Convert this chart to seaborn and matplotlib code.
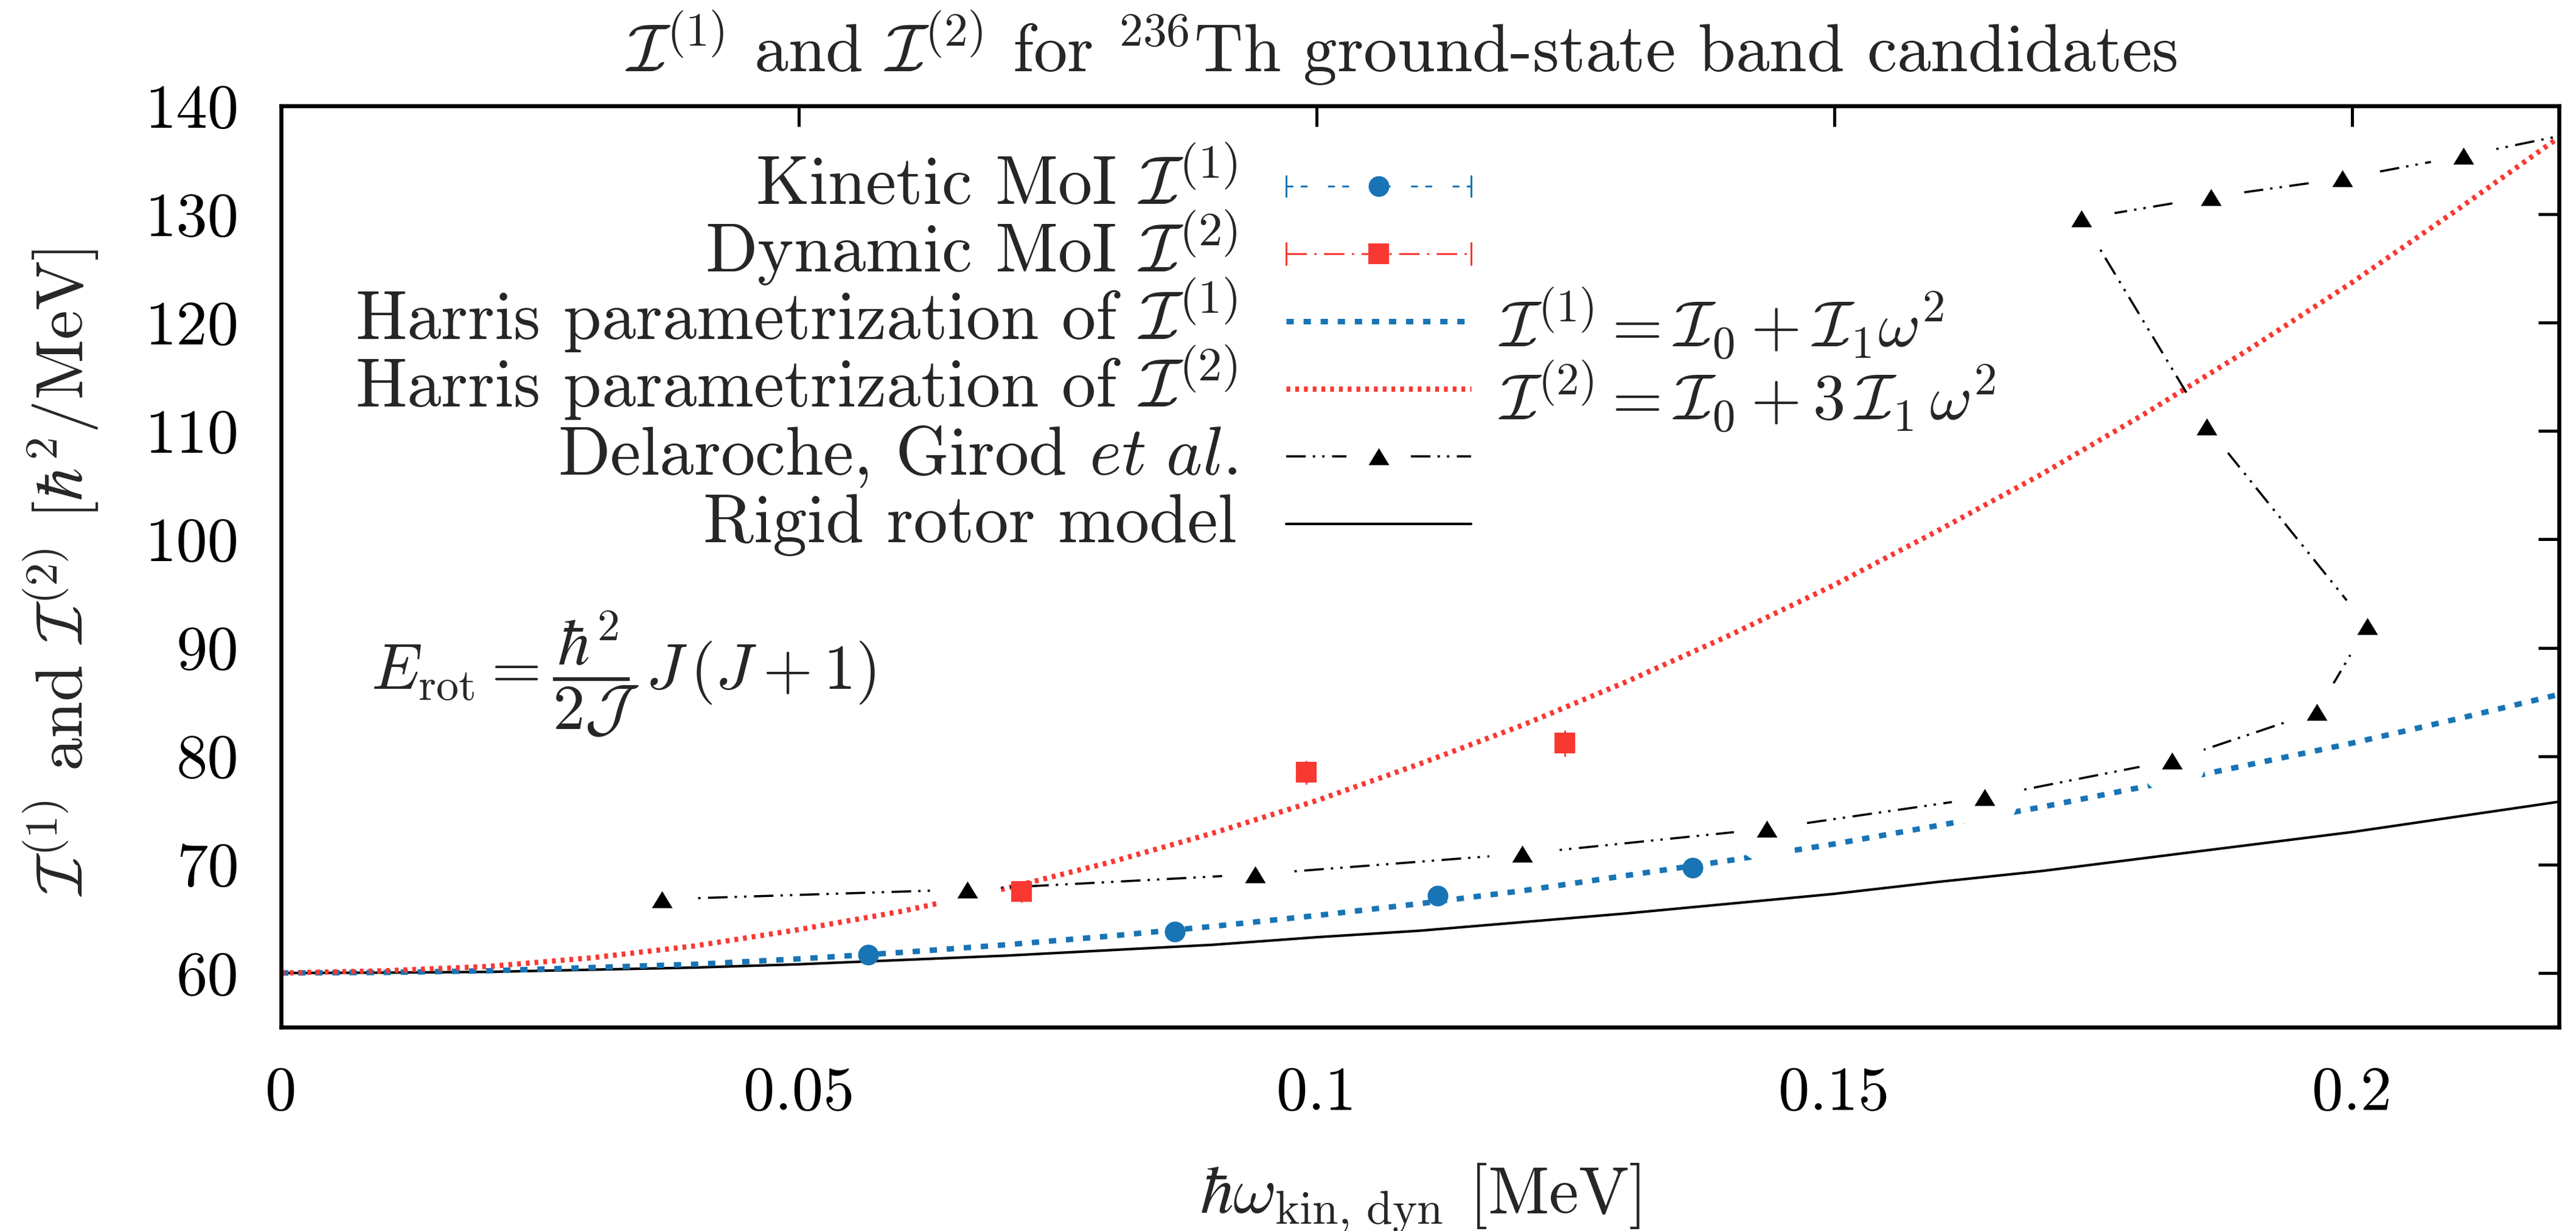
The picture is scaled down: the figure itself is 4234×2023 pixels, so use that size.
import numpy as np
import pandas as pd
import matplotlib
matplotlib.use("Agg")
import matplotlib.pyplot as plt
import seaborn as sns
from matplotlib.lines import Line2D
from matplotlib.legend import Legend
from matplotlib.legend_handler import HandlerBase

# ---------------- data ----------------
omega_grid = [0.00, 0.01, 0.02, 0.03, 0.04, 0.05, 0.06, 0.07, 0.08, 0.09, 0.10, 0.11,
              0.12, 0.13, 0.14, 0.15, 0.16, 0.17, 0.18, 0.19, 0.20, 0.21, 0.22]
harris_moi_1 = [60.0, 60.05, 60.2, 60.5, 60.8, 61.3, 61.9, 62.6, 63.4, 64.3, 65.3, 66.4,
                67.6, 69.0, 70.4, 71.9, 73.6, 75.3, 77.2, 79.2, 81.2, 83.4, 85.7]
harris_moi_2 = [60.0, 60.2, 60.6, 61.4, 62.5, 64.0, 65.7, 67.8, 70.2, 72.9, 75.9, 79.3,
                82.9, 86.9, 91.2, 95.8, 100.8, 106.0, 111.6, 117.5, 123.7, 130.3, 137.1]
rigid_moi = [60.0, 60.03, 60.1, 60.3, 60.5, 60.8, 61.2, 61.6, 62.1, 62.6, 63.3, 63.9,
             64.7, 65.5, 66.4, 67.3, 68.4, 69.4, 70.6, 71.8, 73.0, 74.4, 75.8]

kin_omega = [0.0567, 0.0863, 0.1117, 0.1363]
kin_moi = [61.7, 63.8, 67.1, 69.7]
kin_err = [0.3, 0.3, 0.4, 0.4]

dyn_omega = [0.0715, 0.0990, 0.1240]
dyn_moi = [67.5, 78.5, 81.2]
dyn_err = [1.0, 1.1, 1.2]

delaroche_omega = [0.0368, 0.0663, 0.0941, 0.1199, 0.1435, 0.1645, 0.1826, 0.1966,
                   0.2015, 0.1860, 0.1739, 0.1864, 0.1991, 0.2108, 0.2235]
delaroche_moi = [66.8, 67.7, 69.1, 71.0, 73.3, 76.2, 79.6, 84.1,
                 92.0, 110.4, 129.6, 131.6, 133.3, 135.4, 137.9]

x_ticks = [0.0, 0.05, 0.10, 0.15, 0.20]
x_tick_labels = ["0", "0.05", "0.1", "0.15", "0.2"]
y_ticks = [60, 70, 80, 90, 100, 110, 120, 130, 140]
y_tick_labels = ["60", "70", "80", "90", "100", "110", "120", "130", "140"]

legend_labels = [
    r"Kinetic MoI $\mathcal{I}^{(1)}$",
    r"Dynamic MoI $\mathcal{I}^{(2)}$",
    r"Harris parametrization of $\mathcal{I}^{(1)}$",
    r"Harris parametrization of $\mathcal{I}^{(2)}$",
    r"Delaroche, Girod $\mathit{et\ al.}$",
    r"Rigid rotor model",
]

# ---------------- style ----------------
sns.set_theme(style="white")
plt.rcParams["font.family"] = "serif"
plt.rcParams["font.serif"] = ["cmr10"]
plt.rcParams["mathtext.fontset"] = "cm"
plt.rcParams["axes.unicode_minus"] = False
plt.rcParams["axes.formatter.use_mathtext"] = True

FS_TICK = 74
FS_TEXT = 81
BLUE = "#1874b5"
RED = "#f93832"

TRI = [(0, 0.82), (-1, -0.82), (1, -0.82), (0, 0.82)]
MS_TRI = 24.5
MS_CIRC = 24.5
MS_SQ = 25.0

ls_h1 = (0, (1.33, 1.78))
ls_h2 = (0, (0.72, 0.95))
ls_del = (0, (8.9, 3.2, 1.1, 3.2, 1.1, 3.4))
ls_kin = (0, (3.67, 4.0, 3.67, 11.0))
ls_dyn = (0, (11.0, 4.0, 1.2, 4.0))

LW_H1, LW_H2, LW_RIG, LW_DEL = 6.5, 6.2, 3.0, 2.6

fig = plt.figure(figsize=(42.34, 20.23), dpi=100)
ax = fig.add_axes([0.10912, 0.16559, 0.88427, 0.74839])
ax.set_facecolor("white")

curves = pd.DataFrame({"omega": omega_grid, "h1": harris_moi_1,
                       "h2": harris_moi_2, "rigid": rigid_moi})
dela = pd.DataFrame({"omega": delaroche_omega, "moi": delaroche_moi})

sns.lineplot(data=curves, x="omega", y="rigid", ax=ax, color="black",
             lw=LW_RIG, errorbar=None, zorder=2)
sns.lineplot(data=curves, x="omega", y="h1", ax=ax, color=BLUE, lw=LW_H1,
             linestyle=ls_h1, errorbar=None, zorder=2.5)
sns.lineplot(data=curves, x="omega", y="h2", ax=ax, color=RED, lw=LW_H2,
             linestyle=ls_h2, errorbar=None, zorder=2.6)
sns.lineplot(data=dela, x="omega", y="moi", ax=ax, color="black", lw=LW_DEL,
             linestyle=ls_del, sort=False, estimator=None, errorbar=None, zorder=3)
# blank area around the Delaroche points (gnuplot point interval look)
ax.plot(delaroche_omega, delaroche_moi, ls="none", marker="o", ms=79,
        mfc="white", mec="none", zorder=4)
ax.plot(delaroche_omega, delaroche_moi, ls="none", marker=TRI, ms=MS_TRI,
        mfc="black", mec="black", mew=0, zorder=5)

ax.errorbar(kin_omega, kin_moi, yerr=kin_err, fmt="o", color=BLUE, ms=MS_CIRC,
            mew=0, elinewidth=2.0, capsize=14, capthick=2.0, zorder=6)
ax.errorbar(dyn_omega, dyn_moi, yerr=dyn_err, fmt="s", color=RED, ms=MS_SQ,
            mew=0, elinewidth=2.0, capsize=25, capthick=2.0, zorder=6)

ax.set_xlim(0, 0.22)
ax.set_ylim(55, 140)
ax.set_xticks(x_ticks)
ax.set_xticklabels(x_tick_labels)
ax.set_yticks(y_ticks)
ax.set_yticklabels(y_tick_labels)
ax.set_xlabel("")
ax.set_ylabel("")
ax.tick_params(axis="both", which="major", direction="in", length=24.5, width=3.6,
               labelsize=FS_TICK, color="black", labelcolor="black",
               top=True, right=True)
ax.tick_params(axis="x", pad=47)
ax.tick_params(axis="y", pad=50)
for sp in ax.spines.values():
    sp.set_visible(True)
    sp.set_linewidth(4.7)
    sp.set_color("black")
    sp.set_zorder(10)


# ---------------- legend (gnuplot-like key samples) ----------------
class KeyHandler(HandlerBase):
    """Key sample drawn at a fixed height above the text baseline."""

    def __init__(self, color, lw, ls, segs=((0.0, 1.0),), marker=None, ms=0,
                 cap_half=None):
        super().__init__()
        self.c, self.lw, self.ls, self.segs = color, lw, ls, segs
        self.m, self.ms, self.ch = marker, ms, cap_half

    def create_artists(self, legend, orig_handle, xdescent, ydescent, width,
                       height, fontsize, trans):
        y = 0.27 * fontsize
        x0 = -xdescent
        arts = []
        for a, b in self.segs:
            arts.append(Line2D([x0 + a * width, x0 + b * width], [y, y], color=self.c,
                               lw=self.lw, linestyle=self.ls))
        if self.ch is not None:
            for xx in (x0, x0 + width):
                arts.append(Line2D([xx, xx], [y - self.ch, y + self.ch],
                                   color=self.c, lw=self.lw))
        if self.m is not None:
            arts.append(Line2D([x0 + width / 2], [y], ls="none", marker=self.m,
                               ms=self.ms, color=self.c, mew=0))
        for art in arts:
            art.set_transform(trans)
        return arts


handlers = [
    KeyHandler(BLUE, 2.2, ls_kin, marker="o", ms=MS_CIRC, cap_half=12),
    KeyHandler(RED, 2.2, ls_dyn, marker="s", ms=MS_SQ, cap_half=13),
    KeyHandler(BLUE, LW_H1, ls_h1),
    KeyHandler(RED, LW_H2, ls_h2),
    KeyHandler("black", LW_DEL, ls_del, segs=((0.0, 0.325), (0.675, 1.0)),
               marker=TRI, ms=MS_TRI),
    KeyHandler("black", LW_RIG, "-"),
]

# one key row per entry, evenly spaced like the gnuplot key; the tall handle
# box fixes each row's descent so rows line up exactly
KEY_RIGHT = 0.5224
KEY_FIRST_BOTTOM = 0.8589
KEY_STEP = 0.07332
for i, (lab, hdl) in enumerate(zip(legend_labels, handlers)):
    h = Line2D([], [])
    lg = Legend(ax, [h], [lab], handler_map={h: hdl}, loc="lower right",
                bbox_to_anchor=(KEY_RIGHT, KEY_FIRST_BOTTOM - i * KEY_STEP),
                bbox_transform=ax.transAxes, frameon=False, markerfirst=False,
                fontsize=FS_TEXT, handlelength=2.7, handleheight=2.0,
                handletextpad=0.72, borderpad=0.0, borderaxespad=0.0)
    lg.set_zorder(7)
    ax.add_artist(lg)

# ---------------- annotations ----------------
ax.text(0.5345, 0.763, r"$\mathcal{I}^{(1)} = \mathcal{I}_0 + \mathcal{I}_1\omega^2$",
        transform=ax.transAxes, ha="left", va="center", fontsize=77, zorder=8)
ax.text(0.5345, 0.684, r"$\mathcal{I}^{(2)} = \mathcal{I}_0 + 3\,\mathcal{I}_1\,\omega^2$",
        transform=ax.transAxes, ha="left", va="center", fontsize=77, zorder=8)
ax.text(0.0395, 0.383, r"$E_{\mathrm{rot}} = \dfrac{\hbar^2}{2\mathcal{J}}\,J\,(J+1)$",
        transform=ax.transAxes, ha="left", va="center", fontsize=76, zorder=8)

fig.text(0.544, 0.9417,
         r"$\mathcal{I}^{(1)}$ and $\mathcal{I}^{(2)}$ for $^{236}$Th ground-state band candidates",
         ha="center", va="baseline", fontsize=80)
fig.text(0.5513, 0.0143, r"$\hbar\omega_{\mathrm{kin,\,dyn}}$ [MeV]",
         ha="center", va="baseline", fontsize=79)
fig.text(0.0236, 0.535, r"$\mathcal{I}^{(1)}$ and $\mathcal{I}^{(2)}$ [$\hbar^2$/MeV]",
         ha="center", va="center", rotation=90, fontsize=78)

fig.savefig("out.png", dpi=100, facecolor="white")
